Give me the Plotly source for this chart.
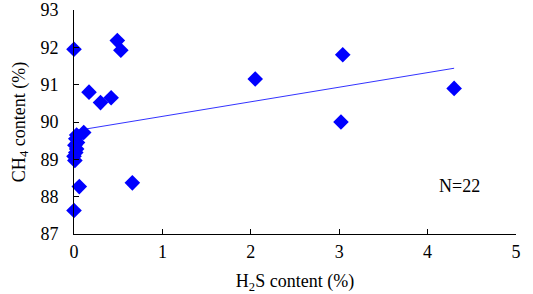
import plotly.graph_objects as go

h2s = [0.00, 0.17, 0.30, 0.42, 0.49, 0.53, 0.66, 0.06, 0.00, 0.01, 0.11,
       0.03, 0.02, 0.04, 0.01, 0.03, 0.02, 0.00, 2.05, 3.04, 3.02, 4.30]
ch4 = [91.95, 90.80, 90.52, 90.65, 92.18, 91.92, 88.37, 88.27, 87.63, 88.97, 89.72,
       89.65, 89.55, 89.45, 89.38, 89.28, 89.18, 89.08, 91.15, 91.80, 90.00, 90.90]
trend_x = [0.00, 4.30]
trend_y = [89.76, 91.44]
x_ticks = [0, 1, 2, 3, 4, 5]
y_ticks = [87, 88, 89, 90, 91, 92, 93]

font = "Times New Roman, Liberation Serif, DejaVu Serif, serif"
tfont = dict(family=font, size=18, color="black")

fig = go.Figure()
fig.add_trace(go.Scatter(x=trend_x, y=trend_y, mode="lines",
                         line=dict(color="#3333ff", width=1), showlegend=False))
fig.add_trace(go.Scatter(x=h2s, y=ch4, mode="markers", cliponaxis=False,
                         marker=dict(symbol="diamond", size=12, color="#0000ff"),
                         showlegend=False))
fig.add_annotation(x=4.36, y=88.28, text="N=22", showarrow=False, font=tfont)
fig.update_layout(
    width=533, height=294,
    margin=dict(l=74, r=17, t=10, b=60, autoexpand=False),
    plot_bgcolor="white", paper_bgcolor="white",
    font=tfont,
    xaxis=dict(range=[0, 5], tickvals=x_ticks, showgrid=False, zeroline=False,
               showline=True, linecolor="black", linewidth=1, automargin=False,
               ticks="inside", ticklen=5, tickcolor="black", tickfont=tfont,
               ticklabelstandoff=1, ticklabeloverflow="allow",
               title=dict(text="H<sub>2</sub>S content (%)", standoff=18, font=tfont)),
    yaxis=dict(range=[87, 93], tickvals=y_ticks, showgrid=False, zeroline=False,
               showline=True, linecolor="black", linewidth=1, automargin=False,
               ticks="inside", ticklen=5, tickcolor="black", tickfont=tfont,
               ticklabelstandoff=11, ticklabeloverflow="allow",
               title=dict(text="CH<sub>4</sub> content (%)", standoff=10, font=tfont)),
)
fig.write_html("out.html", config={"displayModeBar": False},
               post_script="document.body.style.margin='0';")
